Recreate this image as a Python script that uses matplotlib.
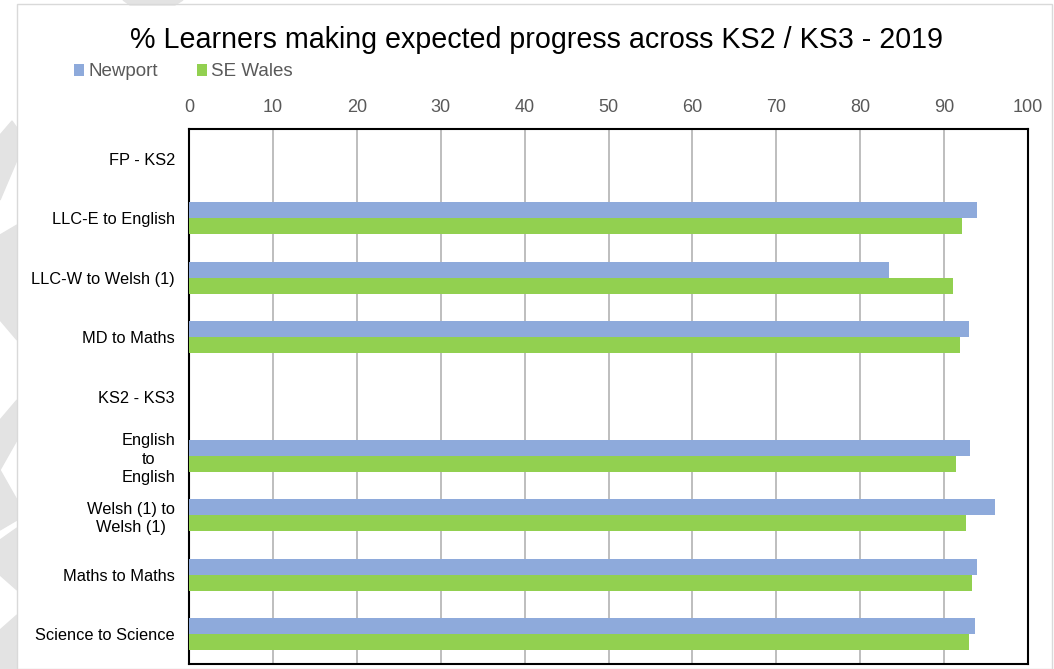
import matplotlib.pyplot as plt
import numpy as np
from matplotlib.patches import Polygon

plt.rcParams['font.family'] = ['Liberation Sans', 'DejaVu Sans']

categories = ['FP - KS2', 'LLC-E to English', 'LLC-W to Welsh (1)', 'MD to Maths',
              'KS2 - KS3', 'English\nto\nEnglish', 'Welsh (1) to\nWelsh (1)',
              'Maths to Maths', 'Science to Science']
newport = [np.nan, 93.9, 83.4, 93.0, np.nan, 93.1, 96.1, 93.9, 93.7]
se_wales = [np.nan, 92.1, 91.1, 91.9, np.nan, 91.4, 92.6, 93.3, 93.0]
ticks = list(range(0, 101, 10))

blue = '#8eaadb'
green = '#92d050'

W, H = 1054, 669
fig = plt.figure(figsize=(W/100, H/100), dpi=100)
ax = fig.add_axes([189/W, 1-664/H, 839/W, 535/H])

# faint background shapes on the left edge (pixel coords from top-left)
shapes = [
    [(0, 135), (12, 121), (17, 128), (17, 160), (0, 200)],
    [(0, 235), (17, 225), (17, 340), (0, 320)],
    [(0, 420), (17, 400), (17, 440), (0, 470), (17, 500), (17, 520), (0, 530)],
    [(0, 540), (17, 528), (17, 590), (0, 575)],
    [(0, 630), (17, 615), (17, 669), (0, 669)],
    [(123, 0), (183, 0), (175, 5), (130, 5)],
]
for s in shapes:
    fig.patches.append(Polygon([(x/W, 1-y/H) for x, y in s], closed=True,
                               transform=fig.transFigure, color='#e3e3e3', zorder=0))
fig.patches.append(plt.Rectangle((17/W, 0), 1035/W, 665/H, transform=fig.transFigure,
                                 fill=False, edgecolor='#d9d9d9', lw=1, zorder=0))

y = np.arange(len(categories))
h = 0.27
ax.barh(y - h/2, newport, height=h, color=blue, label='Newport', zorder=3)
ax.barh(y + h/2, se_wales, height=h, color=green, label='SE Wales', zorder=3)

ax.set_xlim(0, 100)
ax.set_ylim(len(categories) - 0.5, -0.5)
ax.set_xticks(ticks)
ax.xaxis.tick_top()
ax.tick_params(axis='x', length=0, pad=9, labelsize=13, labelcolor='#595959')
ax.tick_params(axis='y', length=0, pad=10, labelsize=11.8)
ax.set_yticks(y)
ax.set_yticklabels(categories, multialignment='center', linespacing=1.3)
ax.grid(axis='x', color='#b3b3b3', lw=1.2, zorder=0)
for sp in ax.spines.values():
    sp.set_color('black')
    sp.set_linewidth(1.5)

fig.text(537/W, 1-40/H, '% Learners making expected progress across KS2 / KS3 - 2019',
         ha='center', va='center', fontsize=20.6)
fig.legend(loc='center left', bbox_to_anchor=(74/W, 1-72/H), ncol=2, frameon=False,
           fontsize=13.5, labelcolor='#595959', handlelength=0.55, handleheight=0.55,
           handletextpad=0.2, columnspacing=2.1, borderaxespad=0, borderpad=0)

fig.savefig('out.png', dpi=100)
